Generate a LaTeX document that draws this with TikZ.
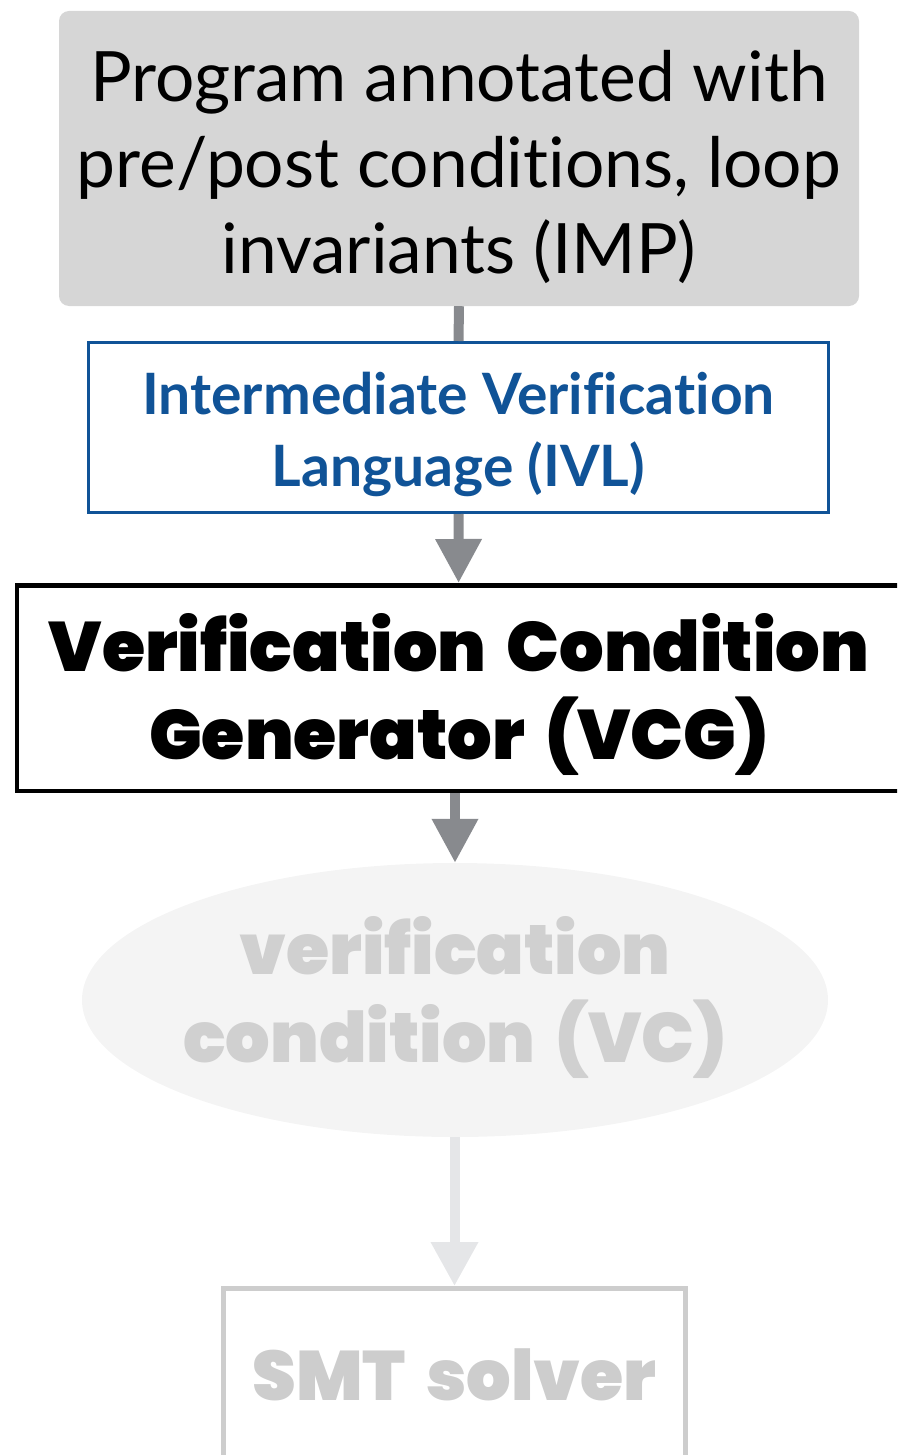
\documentclass[tikz,border=0pt]{standalone}
\usepackage{fontspec}
\setmainfont{Lato}[Ligatures=NoCommon]
\newfontfamily\heavyfont{Poppins Black}[Ligatures=NoCommon, WordSpace=1.7]
\usetikzlibrary{arrows.meta,shapes.geometric}
\definecolor{boxgray}{HTML}{D6D6D6}
\definecolor{arrowgray}{HTML}{888A8E}
\definecolor{ivlblue}{HTML}{105397}
\definecolor{vcfill}{HTML}{F4F4F4}
\definecolor{vctext}{HTML}{D0D0D0}
\definecolor{fadearrow}{HTML}{E5E6E8}
\definecolor{smtgray}{HTML}{CDCDCD}
\tikzset{
  progbox/.style={fill=boxgray, rounded corners=10pt, inner sep=0pt},
  progtext/.style={inner sep=0pt, align=center, font=\fontsize{69.5}{86}\selectfont},
  ivlbox/.style={draw=ivlblue, line width=3pt, fill=white, inner sep=0pt},
  ivltext/.style={inner sep=0pt, align=center, text=ivlblue,
    font=\fontsize{57}{72}\selectfont\bfseries},
  vcgbox/.style={draw=black, line width=4.5pt, fill=white, inner sep=0pt},
  vcgtext/.style={inner sep=0pt, align=center, font=\fontsize{70}{88}\selectfont\heavyfont},
  vcnode/.style={ellipse, fill=vcfill, inner sep=0pt},
  vctextstyle/.style={inner sep=0pt, align=center, text=vctext,
    font=\fontsize{70}{88}\selectfont\heavyfont},
  smtbox/.style={draw=smtgray, line width=5pt, inner sep=0pt, text=smtgray,
    font=\fontsize{70}{86}\selectfont\heavyfont},
  plainconn/.style={draw=arrowgray, line width=10pt},
  flow/.style={draw=arrowgray, line width=10pt, -{Triangle[width=44pt,length=44pt]}},
  fadeflow/.style={draw=fadearrow, line width=10pt, -{Triangle[width=45pt,length=44pt]}},
}
\begin{document}
\begin{tikzpicture}[x=1pt,y=-1pt]
\useasboundingbox (0,0) rectangle (897,1455);
\clip (0,0) rectangle (897,1455);
% boxes
\node[progbox, minimum width=800pt, minimum height=295pt] (prog) at (459,158.5) {};
\node[ivlbox, minimum width=740pt, minimum height=170pt] (ivl) at (458.5,427.5) {};
\node[vcgbox, minimum width=882.75pt, minimum height=205.5pt] (vcg) at (458.6,688) {};
\node[vcnode, minimum width=746pt, minimum height=274pt] (vc) at (455,1000) {};
\node[smtbox, minimum width=462pt, minimum height=173pt] (smt) at (454.5,1375) {SMT solver};
% texts
\node[progtext] (progt) at ([yshift=-8pt]prog.center)
  {Program annotated with\\pre/post conditions, loop\\invariants (IMP)};
\node[ivltext] (ivlt) at ([yshift=-7pt]ivl.center)
  {Intermediate Verification\\Language (IVL)};
\node[vcgtext] (vcgt) at ([xshift=0.4pt,yshift=-6pt]vcg.center)
  {Verification Condition\\Generator (VCG)};
\node[vctextstyle] (vct) at ([yshift=3pt]vc.center)
  {verification\\condition (VC)};
% connectors
\draw[plainconn] (prog.south) -- (ivl.north);
\draw[flow] (ivl.south) -- (vcg.north);
\draw[flow] (vcg.south -| vc.north) -- (vc.north);
\draw[fadeflow] (vc.south -| smt.north) -- (smt.north);
\end{tikzpicture}
\end{document}
